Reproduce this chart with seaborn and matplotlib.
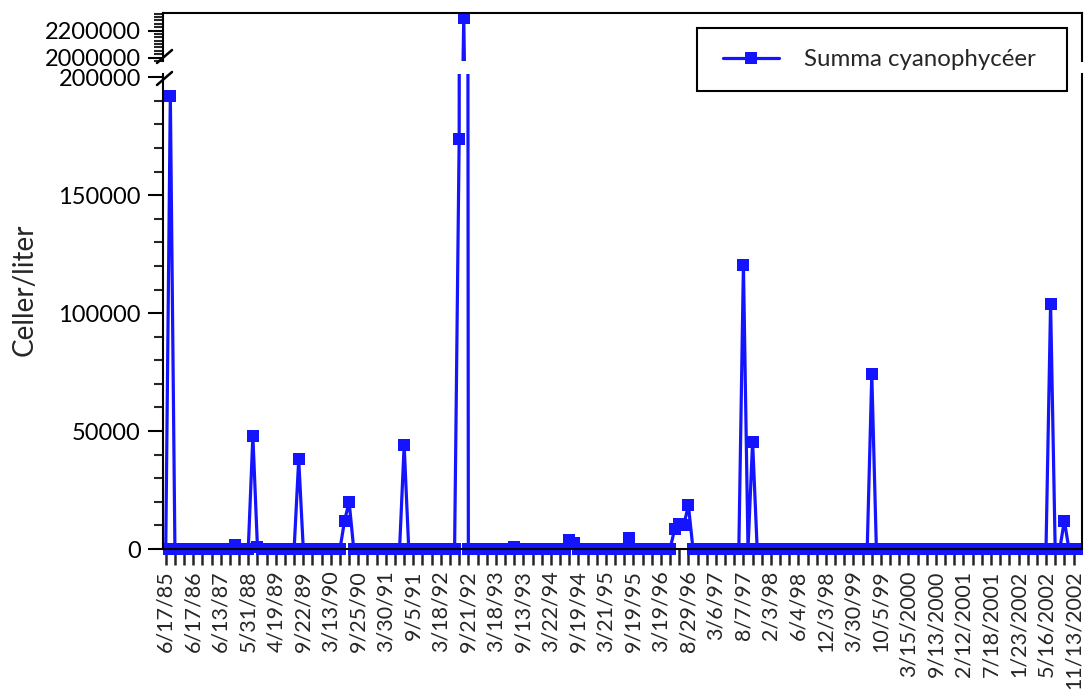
import numpy as np
import pandas as pd
import matplotlib
matplotlib.use("Agg")
import matplotlib.pyplot as plt
import seaborn as sns
from matplotlib.ticker import MultipleLocator, FuncFormatter
from matplotlib.transforms import Bbox, TransformedBbox
from matplotlib.lines import Line2D
from matplotlib.patches import Rectangle

# ---- data -------------------------------------------------------------
series_label = "Summa cyanophycéer"
y_label = "Celler/liter"

# cyanobacteria cell counts per sample (cells / litre), in sampling order
cells_per_liter = [
    0, 192000, 0, 0, 0, 0, 0, 0, 0, 0, 0, 0, 0, 0, 0, 1500, 0, 0, 0, 48000,
    800, 0, 0, 0, 0, 0, 0, 0, 0, 38000, 0, 0, 0, 0, 0, 0, 0, 0, 0, 12000,
    20000, 0, 0, 0, 0, 0, 0, 0, 0, 0, 0, 0, 44000, 0, 0, 0, 0, 0, 0, 0,
    0, 0, 0, 0, 174000, 2295000, 0, 0, 0, 0, 0, 0, 0, 0, 0, 0, 800, 0, 0, 0,
    0, 0, 0, 0, 0, 0, 0, 0, 3700, 2700, 0, 0, 0, 0, 0, 0, 0, 0, 0, 0,
    0, 4800, 0, 0, 0, 0, 0, 0, 0, 0, 0, 8500, 10800, 10200, 18500, 0, 0, 0, 0, 0,
    0, 0, 0, 0, 0, 0, 120500, 0, 45500, 0, 0, 0, 0, 0, 0, 0, 0, 0, 0, 0,
    0, 0, 0, 0, 0, 0, 0, 0, 0, 0, 0, 0, 0, 0, 74000, 0, 0, 0, 0, 0,
    0, 0, 0, 0, 0, 0, 0, 0, 0, 0, 0, 0, 0, 0, 0, 0, 0, 0, 0, 0,
    0, 0, 0, 0, 0, 0, 0, 0, 0, 0, 0, 0, 0, 104000, 0, 0, 12000, 0, 0, 0,
]

# sampling dates shown on the axis (every sixth sample)
date_labels = [
    "6/17/85", "6/17/86", "6/13/87", "5/31/88", "4/19/89", "9/22/89",
    "3/13/90", "9/25/90", "3/30/91", "9/5/91", "3/18/92", "9/21/92",
    "3/18/93", "9/13/93", "3/22/94", "9/19/94", "3/21/95", "9/19/95",
    "3/19/96", "8/29/96", "3/6/97", "8/7/97", "2/3/98", "6/4/98",
    "12/3/98", "3/30/99", "10/5/99", "3/15/2000", "9/13/2000", "2/12/2001",
    "7/18/2001", "1/23/2002", "5/16/2002", "11/13/2002",
]

df = pd.DataFrame({"sample": np.arange(len(cells_per_liter)),
                   "cells": cells_per_liter})

# ---- style ------------------------------------------------------------
sns.set_style("ticks")
plt.rcParams["font.family"] = ["Lato", "DejaVu Sans"]
plt.rcParams["axes.linewidth"] = 1.5

BLUE = "#1414FF"
LW = 2.3
MS = 8

W, H = 1088, 691
fig = plt.figure(figsize=(W / 100, H / 100), dpi=100)


def px_axes(left, top, right, bottom):
    return fig.add_axes([left / W, 1 - bottom / H,
                         (right - left) / W, (bottom - top) / H])


ax_top = px_axes(163, 13, 1082, 61)
ax_bot = px_axes(163, 74, 1082, 549)

for ax in (ax_top, ax_bot):
    sns.lineplot(data=df, x="sample", y="cells", ax=ax, color=BLUE,
                 linewidth=LW, marker="s", markersize=MS,
                 markeredgewidth=0, legend=False)
    ax.set_xlim(-0.6, 199.85)
    ax.set_xlabel("")
    ax.set_ylabel("")
    ax.yaxis.set_major_formatter(FuncFormatter(lambda v, p: f"{v:.0f}"))
    ax.tick_params(axis="y", which="major", length=11, width=1.5,
                   labelsize=17, pad=5, colors="black")
    ax.tick_params(axis="y", which="minor", length=6.5, width=1.5)
    for s in ax.spines.values():
        s.set_linewidth(1.5)
        s.set_color("black")

# let the zero markers spill slightly below the bottom spine
line = ax_bot.lines[0]
line.set_clip_box(TransformedBbox(Bbox([[0, -0.03], [1, 1]]), ax_bot.transAxes))

# upper segment of the broken axis
ax_top.set_ylim(1975000, 2330000)
ax_top.yaxis.set_major_locator(MultipleLocator(200000))
ax_top.yaxis.set_minor_locator(MultipleLocator(25000))
ax_top.spines["bottom"].set_visible(False)
ax_top.tick_params(axis="x", bottom=False, labelbottom=False)

# lower segment
ax_bot.set_ylim(0, 201400)
ax_bot.yaxis.set_major_locator(MultipleLocator(50000))
ax_bot.yaxis.set_minor_locator(MultipleLocator(10000))
ax_bot.spines["top"].set_visible(False)

tick_pos = np.arange(0, len(cells_per_liter), 2)
tick_lab = [""] * len(tick_pos)
tick_lab[::3] = date_labels
ax_bot.set_xticks(tick_pos)
ax_bot.set_xticklabels(tick_lab, rotation=90, va="top", ha="center")
ax_bot.tick_params(axis="x", length=11.5, width=1.8, labelsize=15.5, pad=4)

# y axis title
fig.text(25 / W, 1 - 290 / H, y_label, rotation=90, ha="center",
         va="center", fontsize=20)

# break marks on the left axis
for y0, y1 in ((63, 50), (85, 72)):
    fig.add_artist(Line2D([157 / W, 172 / W], [1 - y0 / H, 1 - y1 / H],
                          transform=fig.transFigure, color="black", lw=1.8))

# legend with a square frame
fig.add_artist(Rectangle((697 / W, 1 - 91 / H), (1067 - 697) / W, (91 - 28) / H,
                         transform=fig.transFigure, facecolor="white",
                         edgecolor="black", lw=1.5, zorder=4))
fs_pt = 17.3
fs_px = fs_pt * 100 / 72
handle = Line2D([], [], color=BLUE, lw=LW, marker="s", markersize=MS,
                markeredgewidth=0)
leg = fig.legend(handles=[handle], labels=[series_label], loc="center left",
                 bbox_to_anchor=(711 / W, 1 - 60 / H), frameon=False,
                 borderpad=0, handlelength=56 / fs_px,
                 handletextpad=25 / fs_px, fontsize=fs_pt)
leg.set_zorder(5)

fig.savefig("out.png", dpi=100)
